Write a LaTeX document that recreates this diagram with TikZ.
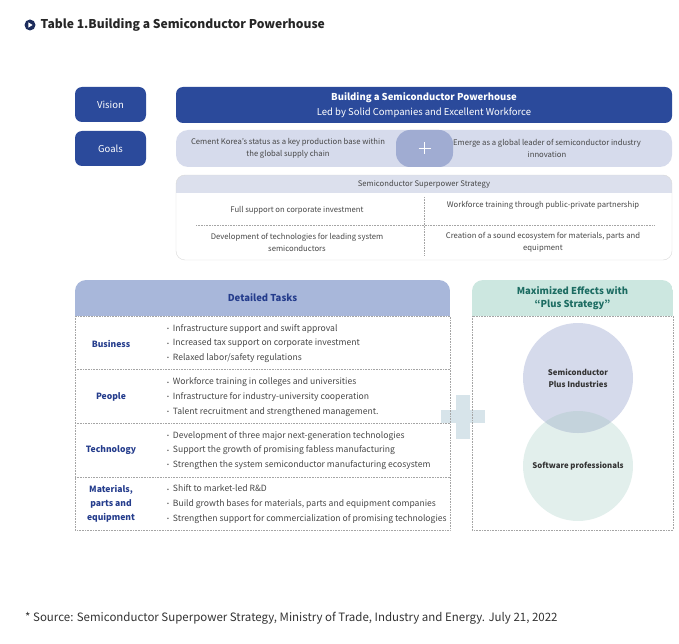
\documentclass[tikz,border=0pt]{standalone}
\usepackage{fontspec}
\setmainfont{Noto Sans CJK KR}
\definecolor{navy}{RGB}{43,74,155}
\definecolor{deepnavy}{RGB}{28,44,92}
\definecolor{goalbg}{RGB}{214,219,236}
\definecolor{goalplus}{RGB}{160,172,210}
\definecolor{strhdr}{RGB}{220,224,237}
\definecolor{dthdr}{RGB}{168,183,218}
\definecolor{dttxt}{RGB}{36,60,140}
\definecolor{mehdr}{RGB}{204,231,224}
\definecolor{metxt}{RGB}{28,108,98}
\definecolor{bigplus}{RGB}{215,228,234}
\definecolor{circA}{RGB}{213,218,235}
\definecolor{circB}{RGB}{226,239,236}
\definecolor{circAB}{RGB}{196,211,220}
\definecolor{bodytxt}{RGB}{70,70,70}
\definecolor{dotc}{RGB}{165,165,165}
\newcommand{\bul}{\raisebox{0.15ex}{\fontsize{5.5}{5}\selectfont\color{black!70}•}\hspace{4pt}}
\tikzset{
  darkbox/.style={fill=navy, rounded corners=7pt, text=white, font=\fontsize{9.5}{12}\selectfont},
  small/.style={text=bodytxt, font=\fontsize{7.7}{11.5}\selectfont, align=center},
  rowlbl/.style={text=dttxt, font=\bfseries\fontsize{8.6}{14}\selectfont, align=center},
  rowtxt/.style={text=bodytxt, font=\fontsize{8.6}{14.6}\selectfont, align=left, anchor=west},
  dotline/.style={dotc, densely dotted, line width=0.6pt},
}
\begin{document}
\begin{tikzpicture}[x=1pt,y=-1pt]
\useasboundingbox (0,0) rectangle (679,644);
% title
\node[circle, fill=deepnavy, minimum size=11pt, inner sep=0pt] (tb) at (30,25) {};
\fill[white] (28.4,22.4) -- (28.4,27.6) -- (32.6,25) -- cycle;
\node[anchor=west, font=\bfseries\fontsize{12.1}{15}\selectfont, text=black!85, inner sep=0pt] (title) at (40.5,25) {Table 1.Building a Semiconductor Powerhouse};

% Vision / Goals labels
\node[darkbox, minimum width=71pt, minimum height=35pt] (vision) at (110.5,104.5) {Vision};
\node[darkbox, minimum width=71pt, minimum height=35pt] (goals) at (110.5,148.5) {Goals};

% Vision bar
\node[darkbox, minimum width=496pt, minimum height=36pt, align=center, font=\fontsize{9.5}{15}\selectfont] (vbar) at (424,105)
  {\textbf{Building a Semiconductor Powerhouse}\\Led by Solid Companies and Excellent Workforce};

% Goals bar
\node[fill=goalbg, rounded corners=12pt, minimum width=496pt, minimum height=37pt] (gbar) at (424,148.5) {};
\node[fill=goalplus, rounded corners=14pt, minimum width=57pt, minimum height=37pt] (gplus) at (424.5,148.5) {};
\coordinate (gp1) at (418.5,148.5); \coordinate (gp2) at (430.5,148.5);
\coordinate (gp3) at (424.5,142.5); \coordinate (gp4) at (424.5,154.5);
\draw[white, line width=1.1pt] (gp1) -- (gp2);
\draw[white, line width=1.1pt] (gp3) -- (gp4);
\node[small] (g1) at (288,148.5) {Cement Korea's status as a key production base within\\the global supply chain};
\node[small] (g2) at (547,148.5) {Emerge as a global leader of semiconductor industry\\innovation};

% Strategy box
\begin{scope}
\clip[rounded corners=9pt] (176,175) rectangle (672,260);
\fill[white] (176,175) rectangle (672,260);
\fill[strhdr] (176,175) rectangle (672,193);
\end{scope}
\draw[black!15, rounded corners=9pt] (176,175) rectangle (672,260);
\node[small] (shdr) at (424,184) {Semiconductor Superpower Strategy};
\coordinate (sv1) at (424,197); \coordinate (sv2) at (424,256);
\coordinate (sh1) at (196,225); \coordinate (sh2) at (654,225);
\draw[dotline] (sv1) -- (sv2);
\draw[dotline] (sh1) -- (sh2);
\node[small] (s1) at (297,210) {Full support on corporate investment};
\node[small] (s2) at (543,205) {Workforce training through public-private partnership};
\node[small] (s3) at (297,242.5) {Development of technologies for leading system\\semiconductors};
\node[small] (s4) at (543,242.5) {Creation of a sound ecosystem for materials, parts and\\equipment};

% big plus
\fill[bigplus] (456,394.5) rectangle (470,438.5);
\fill[bigplus] (441,410) rectangle (485,423);

% Detailed tasks
\begin{scope}
\clip[rounded corners=11pt] (75,280) rectangle (450,330);
\fill[dthdr] (75,280) rectangle (450,316);
\end{scope}
\node[text=dttxt, font=\bfseries\fontsize{9.5}{12}\selectfont] (dth) at (262.5,298) {Detailed Tasks};
\draw[dotline] (75,316) rectangle (450,530);
\coordinate (r1a) at (75,369); \coordinate (r1b) at (450,369);
\coordinate (r2a) at (75,423); \coordinate (r2b) at (450,423);
\coordinate (r3a) at (75,477); \coordinate (r3b) at (450,477);
\draw[dotline] (r1a) -- (r1b);
\draw[dotline] (r2a) -- (r2b);
\draw[dotline] (r3a) -- (r3b);

\node[rowlbl] (lb1) at (111,344) {Business};
\node[rowlbl] (lb2) at (111,397) {People};
\node[rowlbl] (lb3) at (111,450.5) {Technology};
\node[rowlbl] (lb4) at (111,504) {Materials,\\parts and\\equipment};

\node[rowtxt] (t1) at (163.5,343.5) {\bul Infrastructure support and swift approval\\\bul Increased tax support on corporate investment\\\bul Relaxed labor/safety regulations};
\node[rowtxt] (t2) at (163.5,397) {\bul Workforce training in colleges and universities\\\bul Infrastructure for industry-university cooperation\\\bul Talent recruitment and strengthened management.};
\node[rowtxt] (t3) at (163.5,450.5) {\bul Development of three major next-generation technologies\\\bul Support the growth of promising fabless manufacturing\\\bul Strengthen the system semiconductor manufacturing ecosystem};
\node[rowtxt] (t4) at (163.5,504) {\bul Shift to market-led R\&D\\\bul Build growth bases for materials, parts and equipment companies\\\bul Strengthen support for commercialization of promising technologies};

% Maximized effects
\begin{scope}
\clip[rounded corners=11pt] (472,280) rectangle (673,330);
\fill[mehdr] (472,280) rectangle (673,316);
\end{scope}
\node[text=metxt, font=\bfseries\fontsize{9.5}{13}\selectfont, align=center] (meh) at (572.5,298) {Maximized Effects with\\“Plus Strategy”};
\draw[dotline] (472,316) rectangle (673,530);

\fill[circB] (578,466) circle (55);
\fill[circA] (578,378) circle (55);
\begin{scope}
\clip (578,466) circle (55);
\fill[circAB] (578,378) circle (55);
\end{scope}
\node[circle, minimum size=110pt, inner sep=0pt] (cA) at (578,378) {};
\node[circle, minimum size=110pt, inner sep=0pt] (cB) at (578,466) {};
\node[text=black!80, font=\bfseries\fontsize{7.8}{12}\selectfont, align=center] (cAt) at (cA.center) {Semiconductor\\Plus Industries};
\node[text=black!80, font=\bfseries\fontsize{7.8}{12}\selectfont, align=center] (cBt) at (cB.center) {Software professionals};

% footer
\node[anchor=west, font=\fontsize{11.5}{13}\selectfont, text=black!80, inner sep=0pt] (src) at (25,618) {* Source: Semiconductor Superpower Strategy, Ministry of Trade, Industry and Energy. July 21, 2022};
\end{tikzpicture}
\end{document}
